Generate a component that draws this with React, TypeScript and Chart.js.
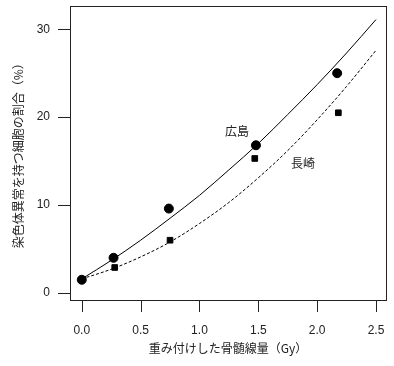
import React, { useEffect, useRef } from "react";
import { Chart, registerables } from "chart.js";

Chart.register(...registerables);

// Observed data
const hiroshimaDose = [0, 0.27, 0.74, 1.48, 2.17];
const hiroshimaPct = [1.5, 4.0, 9.6, 16.8, 25.0];
const nagasakiDose = [0, 0.28, 0.75, 1.47, 2.18];
const nagasakiPct = [1.5, 2.9, 6.0, 15.3, 20.5];

// Fitted curves
const curveDose = [0, 0.25, 0.5, 0.75, 1.0, 1.25, 1.5, 1.75, 2.0, 2.25, 2.5];
const hiroshimaCurve = [1.6, 3.7, 6.0, 8.5, 11.1, 14.0, 17.0, 20.3, 23.7, 27.3, 31.1];
const nagasakiCurve = [1.6, 2.7, 4.1, 5.8, 7.9, 10.3, 13.1, 16.2, 19.7, 23.5, 27.6];

// Axis ticks
const xTicks = [0, 0.5, 1.0, 1.5, 2.0, 2.5];
const yTicks = [0, 10, 20, 30];

// Text labels on the plot
const labelTexts = ["広島", "長崎"];
const labelX = [1.32, 1.88];
const labelY = [18.4, 14.7];

const xTitle = "重み付けした骨髄線量（Gy）";
const yTitle = "染色体異常を持つ細胞の割合（%）";

const zip = (xs: number[], ys: number[]) => xs.map((x, i) => ({ x, y: ys[i] }));

const CJK = "'Noto Sans CJK JP', 'Liberation Sans', sans-serif";
const SANS = "'Liberation Sans', Arial, sans-serif";

export default function App() {
  const ref = useRef<HTMLCanvasElement | null>(null);

  useEffect(() => {
    document.body.style.margin = "0";
    const canvas = ref.current;
    if (!canvas) return;

    const boxPlugin = {
      id: "boxAndLabels",
      afterDraw(chart: any) {
        const { ctx, scales } = chart;
        const xs = scales.x;
        const ys = scales.y;
        const L = Math.round(xs.left);
        const R = Math.round(xs.right);
        const T = Math.round(ys.top);
        const B = Math.round(ys.bottom);
        ctx.save();
        ctx.setLineDash([]);
        ctx.fillStyle = "#222";
        ctx.fillRect(L, T, R - L + 1, 1);
        ctx.fillRect(L, B, R - L + 1, 1);
        ctx.fillRect(L, T, 1, B - T + 1);
        ctx.fillRect(R, T, 1, B - T + 1);
        const tl = 12;
        xs.ticks.forEach((t: any) => {
          const px = Math.round(xs.getPixelForValue(t.value));
          ctx.fillRect(px, B, 1, tl);
        });
        ys.ticks.forEach((t: any) => {
          const py = Math.round(ys.getPixelForValue(t.value));
          ctx.fillRect(L - tl, py, tl, 1);
        });
        ctx.font = "12px " + CJK;
        ctx.textAlign = "center";
        ctx.textBaseline = "middle";
        labelTexts.forEach((t, i) => {
          ctx.fillText(t, xs.getPixelForValue(labelX[i]), ys.getPixelForValue(labelY[i]));
        });
        ctx.restore();
      },
    };

    const chart = new Chart(canvas, {
      type: "scatter",
      data: {
        datasets: [
          {
            label: "広島",
            data: zip(hiroshimaDose, hiroshimaPct),
            pointStyle: "circle",
            pointRadius: 4.5,
            backgroundColor: "#000",
            borderColor: "#000",
            order: 0,
          },
          {
            label: "長崎",
            data: zip(nagasakiDose, nagasakiPct),
            pointStyle: "rect",
            pointRadius: 4,
            backgroundColor: "#000",
            borderColor: "#000",
            order: 1,
          },
          {
            type: "line",
            label: "広島 fit",
            data: zip(curveDose, hiroshimaCurve),
            showLine: true,
            pointRadius: 0,
            borderColor: "#000",
            borderWidth: 1,
            cubicInterpolationMode: "monotone",
            fill: false,
            order: 2,
          },
          {
            type: "line",
            label: "長崎 fit",
            data: zip(curveDose, nagasakiCurve),
            showLine: true,
            pointRadius: 0,
            borderColor: "#000",
            borderWidth: 1,
            borderDash: [3, 2],
            cubicInterpolationMode: "monotone",
            fill: false,
            order: 3,
          },
        ] as any,
      },
      options: {
        animation: false,
        responsive: false,
        layout: { padding: { top: 2, right: 8, left: 0, bottom: 0 } },
        plugins: { legend: { display: false }, tooltip: { enabled: false } },
        scales: {
          x: {
            type: "linear",
            min: -0.1,
            max: 2.585,
            afterBuildTicks: (s: any) => {
              s.ticks = xTicks.map((v) => ({ value: v }));
            },
            afterFit: (s: any) => {
              s.height = 66;
              s.paddingLeft = 0;
              s.paddingRight = 0;
            },
            ticks: {
              color: "#222",
              font: { family: SANS, size: 12 },
              padding: 15,
              maxRotation: 0,
              autoSkip: false,
              callback: (v: any) => Number(v).toFixed(1),
            },
            grid: { display: false },
            border: { display: false },
            title: {
              display: true,
              text: xTitle,
              color: "#222",
              font: { family: CJK, size: 12 },
              padding: { top: 0, bottom: 10 },
            },
          },
          y: {
            type: "linear",
            min: -0.8,
            max: 32.7,
            afterBuildTicks: (s: any) => {
              s.ticks = yTicks.map((v) => ({ value: v }));
            },
            afterFit: (s: any) => {
              s.width = 70;
              s.paddingTop = 0;
              s.paddingBottom = 0;
            },
            ticks: {
              color: "#222",
              font: { family: SANS, size: 12 },
              padding: 12,
              autoSkip: false,
              callback: (v: any) => String(v),
            },
            grid: { display: false },
            border: { display: false },
            title: {
              display: true,
              text: yTitle,
              color: "#222",
              font: { family: CJK, size: 12 },
              padding: { top: 11, bottom: 0 },
            },
          },
        },
      } as any,
      plugins: [boxPlugin],
    });

    return () => chart.destroy();
  }, []);

  return <canvas ref={ref} width={394} height={366} style={{ display: "block" }} />;
}
